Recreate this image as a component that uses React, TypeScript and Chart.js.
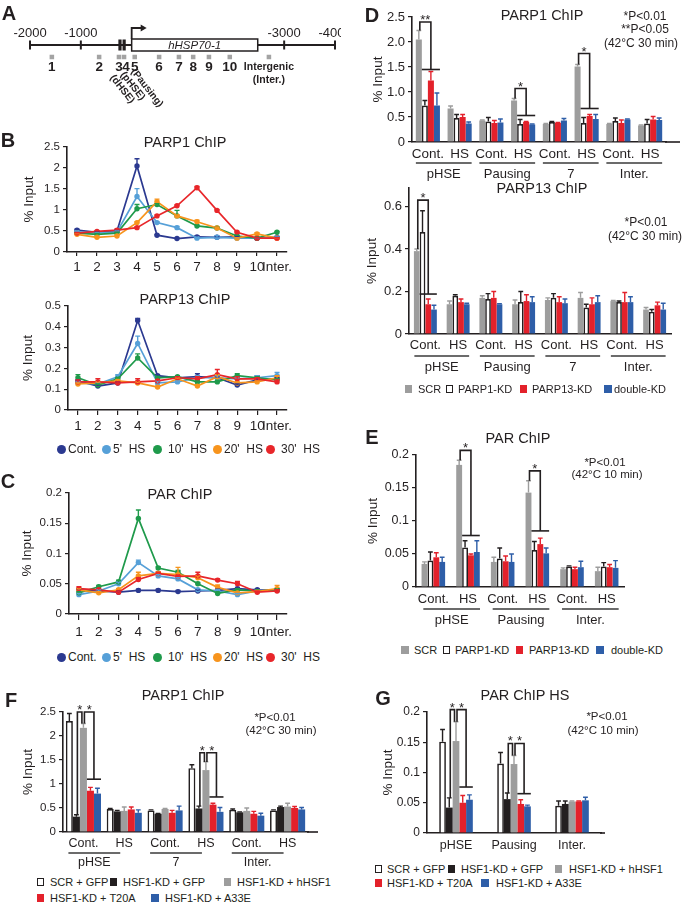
import React, { useEffect, useRef } from "react";
import { Chart, registerables } from "chart.js";

Chart.register(...registerables);

const FONT = "'Liberation Sans', Arial, Helvetica, sans-serif";
const INK = "#231f20";
Chart.defaults.font.family = FONT;
Chart.defaults.color = INK;

// ---------------- Panel A data ----------------
const A_TICK_VALUES = [-2000, -1000, 3000, 4000];
const A_TICK_LABELS = ["-2000", "-1000", "-3000", "-4000"];
const A_GENE = [0, 2480];
const A_GENE_NAME = "hHSP70-1";
const A_HSE = [-230, -148];
const A_SITE_POS = [-1570, -640, -250, -150, 60, 540, 930, 1210, 1520, 1930, 2700];
const A_SITE_LABELS = ["1", "2", "3", "4", "5", "6", "7", "8", "9", "10", "Intergenic"];
const A_SITE_SUB = ["", "", "", "", "", "", "", "", "", "", "(Inter.)"];
const A_ROT_SITES = [2, 3, 4];
const A_ROT_LABELS = ["(dHSE)", "(pHSE)", "(Pausing)"];

// ---------------- Panels B / C data ----------------
const SITES = ["1", "2", "3", "4", "5", "6", "7", "8", "9", "10", "Inter."];
const TIME_NAMES = ["Cont.", "5'  HS", "10'  HS", "20'  HS", "30'  HS"];
const TIME_COLORS = ["#2b3990", "#56a0d8", "#1f9a4b", "#f7941d", "#e8262a"];

const B1_CONT = [0.52, 0.47, 0.5, 2.05, 0.4, 0.32, 0.36, 0.35, 0.36, 0.33, 0.35];
const B1_HS5 = [0.48, 0.45, 0.48, 1.32, 0.7, 0.58, 0.33, 0.35, 0.33, 0.33, 0.35];
const B1_HS10 = [0.45, 0.42, 0.45, 1.03, 1.13, 0.86, 0.62, 0.57, 0.38, 0.33, 0.47];
const B1_HS20 = [0.42, 0.35, 0.38, 0.7, 1.2, 0.86, 0.72, 0.57, 0.33, 0.43, 0.33];
const B1_HS30 = [0.45, 0.49, 0.52, 0.58, 0.86, 1.1, 1.53, 0.99, 0.47, 0.33, 0.33];
const B1_ERR_CONT = [0.02, 0.01, 0.02, 0.17, 0.02, 0.01, 0.03, 0.02, 0.01, 0.01, 0.01];
const B1_ERR_HS5 = [0.02, 0.01, 0.02, 0.19, 0.02, 0.03, 0.02, 0.04, 0.01, 0.01, 0.01];
const B1_ERR_HS10 = [0.01, 0.02, 0.02, 0.1, 0.02, 0.13, 0.02, 0.02, 0.02, 0.02, 0.02];
const B1_ERR_HS20 = [0.02, 0.01, 0.02, 0.02, 0.06, 0.02, 0.04, 0.02, 0.01, 0.03, 0.01];
const B1_ERR_HS30 = [0.01, 0.02, 0.03, 0.02, 0.02, 0.02, 0.03, 0.02, 0.02, 0.01, 0.01];

const B2_CONT = [0.14, 0.115, 0.13, 0.43, 0.165, 0.155, 0.16, 0.155, 0.12, 0.145, 0.15];
const B2_HS5 = [0.13, 0.125, 0.16, 0.32, 0.13, 0.135, 0.155, 0.155, 0.15, 0.155, 0.165];
const B2_HS10 = [0.155, 0.12, 0.15, 0.25, 0.155, 0.16, 0.135, 0.135, 0.165, 0.155, 0.145];
const B2_HS20 = [0.125, 0.13, 0.14, 0.13, 0.11, 0.15, 0.115, 0.16, 0.13, 0.135, 0.155];
const B2_HS30 = [0.135, 0.135, 0.13, 0.135, 0.14, 0.155, 0.15, 0.17, 0.15, 0.15, 0.135];
const B2_ERR_CONT = [0.005, 0.005, 0.005, 0.01, 0.005, 0.005, 0.015, 0.005, 0.005, 0.02, 0.005];
const B2_ERR_HS5 = [0.005, 0.005, 0.01, 0.035, 0.01, 0.005, 0.01, 0.01, 0.005, 0.01, 0.015];
const B2_ERR_HS10 = [0.015, 0.005, 0.005, 0.02, 0.005, 0.005, 0.005, 0.005, 0.01, 0.005, 0.005];
const B2_ERR_HS20 = [0.005, 0.005, 0.005, 0.005, 0.005, 0.005, 0.005, 0.01, 0.005, 0.005, 0.01];
const B2_ERR_HS30 = [0.01, 0.015, 0.005, 0.015, 0.005, 0.005, 0.01, 0.025, 0.01, 0.005, 0.01];

const C_CONT = [0.04, 0.038, 0.036, 0.039, 0.039, 0.037, 0.038, 0.039, 0.042, 0.04, 0.039];
const C_HS5 = [0.032, 0.038, 0.05, 0.085, 0.063, 0.058, 0.04, 0.038, 0.032, 0.038, 0.04];
const C_HS10 = [0.035, 0.045, 0.053, 0.158, 0.076, 0.069, 0.05, 0.034, 0.04, 0.038, 0.04];
const C_HS20 = [0.04, 0.035, 0.04, 0.063, 0.067, 0.065, 0.06, 0.044, 0.035, 0.037, 0.042];
const C_HS30 = [0.042, 0.04, 0.036, 0.057, 0.067, 0.062, 0.063, 0.056, 0.05, 0.036, 0.038];
const C_ERR_CONT = [0.002, 0.002, 0.002, 0.002, 0.002, 0.002, 0.002, 0.002, 0.002, 0.002, 0.002];
const C_ERR_HS5 = [0.002, 0.002, 0.003, 0.004, 0.002, 0.002, 0.002, 0.002, 0.002, 0.002, 0.002];
const C_ERR_HS10 = [0.002, 0.002, 0.003, 0.014, 0.002, 0.003, 0.002, 0.002, 0.002, 0.002, 0.002];
const C_ERR_HS20 = [0.002, 0.002, 0.002, 0.006, 0.003, 0.012, 0.003, 0.004, 0.002, 0.002, 0.005];
const C_ERR_HS30 = [0.003, 0.002, 0.002, 0.003, 0.002, 0.002, 0.006, 0.002, 0.004, 0.002, 0.002];

// ---------------- Panels D / E data ----------------
const KD_NAMES = ["SCR", "PARP1-KD", "PARP13-KD", "double-KD"];
const D_CATS = ["Cont.", "HS", "Cont.", "HS", "Cont.", "HS", "Cont.", "HS"];
const D_REGIONS = ["pHSE", "Pausing", "7", "Inter."];

const D1_SCR = [2.05, 0.67, 0.43, 0.83, 0.36, 1.51, 0.36, 0.33];
const D1_PARP1 = [0.73, 0.48, 0.41, 0.36, 0.4, 0.38, 0.42, 0.37];
const D1_PARP13 = [1.23, 0.5, 0.38, 0.4, 0.38, 0.52, 0.38, 0.45];
const D1_DOUBLE = [0.73, 0.37, 0.39, 0.35, 0.43, 0.46, 0.45, 0.44];
const D1_ERR_SCR = [0.18, 0.05, 0.01, 0.04, 0.01, 0.04, 0.01, 0.01];
const D1_ERR_PARP1 = [0.1, 0.07, 0.08, 0.09, 0.01, 0.11, 0.06, 0.08];
const D1_ERR_PARP13 = [0.18, 0.05, 0.05, 0.01, 0.01, 0.03, 0.06, 0.06];
const D1_ERR_DOUBLE = [0.25, 0.03, 0.07, 0.01, 0.04, 0.09, 0.01, 0.04];
const D1_SIG = [
  { cat: 0, a: 0, aEnd: 2.23, b: [1, 3], bEnd: 1.45, top: 2.4, label: "**" },
  { cat: 3, a: 0, aEnd: 0.87, b: [1, 3], bEnd: 0.53, top: 1.07, label: "*" },
  { cat: 5, a: 0, aEnd: 1.55, b: [1, 3], bEnd: 0.67, top: 1.77, label: "*" },
];

const D2_SCR = [0.39, 0.14, 0.17, 0.14, 0.16, 0.17, 0.155, 0.115];
const D2_PARP1 = [0.48, 0.18, 0.165, 0.15, 0.17, 0.125, 0.15, 0.105];
const D2_PARP13 = [0.14, 0.15, 0.17, 0.155, 0.15, 0.14, 0.15, 0.135];
const D2_DOUBLE = [0.115, 0.14, 0.14, 0.15, 0.145, 0.15, 0.15, 0.115];
const D2_ERR_SCR = [0.01, 0.015, 0.01, 0.02, 0.01, 0.025, 0.003, 0.01];
const D2_ERR_PARP1 = [0.1, 0.005, 0.025, 0.05, 0.02, 0.015, 0.005, 0.01];
const D2_ERR_PARP13 = [0.025, 0.015, 0.03, 0.03, 0.025, 0.03, 0.045, 0.015];
const D2_ERR_DOUBLE = [0.02, 0.005, 0.003, 0.025, 0.02, 0.03, 0.025, 0.03];
const D2_YTICKS = [0, 0.2, 0.4, 0.6];
const D2_SIG = [{ cat: 0, a: 0, aEnd: 0.4, b: [1, 3], bEnd: 0.188, top: 0.63, label: "*" }];

const E_CATS = ["Cont.", "HS", "Cont.", "HS", "Cont.", "HS"];
const E_REGIONS = ["pHSE", "Pausing", "Inter."];
const E_SCR = [0.035, 0.185, 0.038, 0.143, 0.027, 0.024];
const E_PARP1 = [0.04, 0.06, 0.043, 0.056, 0.031, 0.031];
const E_PARP13 = [0.045, 0.048, 0.039, 0.065, 0.027, 0.03];
const E_DOUBLE = [0.038, 0.053, 0.038, 0.051, 0.03, 0.029];
const E_ERR_SCR = [0.003, 0.007, 0.007, 0.018, 0.002, 0.006];
const E_ERR_PARP1 = [0.013, 0.01, 0.016, 0.013, 0.001, 0.006];
const E_ERR_PARP13 = [0.007, 0.002, 0.008, 0.009, 0.003, 0.004];
const E_ERR_DOUBLE = [0.007, 0.017, 0.012, 0.008, 0.009, 0.011];
const E_SIG = [
  { cat: 1, a: 0, aEnd: 0.192, b: [1, 3], bEnd: 0.078, top: 0.207, label: "*" },
  { cat: 3, a: 0, aEnd: 0.161, b: [1, 3], bEnd: 0.085, top: 0.176, label: "*" },
];

// ---------------- Panels F / G data ----------------
const RESCUE_NAMES = ["SCR + GFP", "HSF1-KD + GFP", "HSF1-KD + hHSF1", "HSF1-KD + T20A", "HSF1-KD + A33E"];
const F_CATS = ["Cont.", "HS", "Cont.", "HS", "Cont.", "HS"];
const F_REGIONS = ["pHSE", "7", "Inter."];
const F_SCR = [2.31, 0.48, 0.45, 1.33, 0.46, 0.45];
const F_KD = [0.32, 0.43, 0.38, 0.49, 0.41, 0.52];
const F_WT = [2.17, 0.44, 0.48, 1.29, 0.44, 0.53];
const F_T20A = [0.86, 0.47, 0.4, 0.57, 0.38, 0.5];
const F_A33E = [0.8, 0.4, 0.45, 0.42, 0.34, 0.47];
const F_ERR_SCR = [0.16, 0.01, 0.01, 0.07, 0.02, 0.01];
const F_ERR_KD = [0.04, 0.02, 0.005, 0.05, 0.01, 0.02];
const F_ERR_WT = [0.09, 0.08, 0.01, 0.17, 0.06, 0.07];
const F_ERR_T20A = [0.07, 0.05, 0.05, 0.03, 0.05, 0.03];
const F_ERR_A33E = [0.11, 0.06, 0.09, 0.09, 0.05, 0.04];
const F_SIG = [
  { cat: 0, a: 1, aEnd: 0.36, b: 2, bEnd: 2.26, top: 2.5, label: "*" },
  { cat: 0, a: 2, aEnd: 2.26, b: [3, 4], bEnd: 1.1, top: 2.5, label: "*" },
  { cat: 3, a: 1, aEnd: 0.54, b: 2, bEnd: 1.46, top: 1.65, label: "*" },
  { cat: 3, a: 2, aEnd: 1.46, b: [3, 4], bEnd: 0.73, top: 1.65, label: "*" },
];

const G_CATS = ["pHSE", "Pausing", "Inter."];
const G_SCR = [0.151, 0.115, 0.045];
const G_KD = [0.042, 0.056, 0.048];
const G_WT = [0.152, 0.114, 0.052];
const G_T20A = [0.05, 0.048, 0.052];
const G_A33E = [0.055, 0.044, 0.054];
const G_ERR_SCR = [0.02, 0.018, 0.008];
const G_ERR_KD = [0.016, 0.01, 0.005];
const G_ERR_WT = [0.032, 0.014, 0.001];
const G_ERR_T20A = [0.012, 0.007, 0.001];
const G_ERR_A33E = [0.008, 0.002, 0.005];
const G_SIG = [
  { cat: 0, a: 1, aEnd: 0.058, b: 2, bEnd: 0.184, top: 0.204, label: "*" },
  { cat: 0, a: 2, aEnd: 0.184, b: [3, 4], bEnd: 0.076, top: 0.204, label: "*" },
  { cat: 1, a: 1, aEnd: 0.066, b: 2, bEnd: 0.128, top: 0.148, label: "*" },
  { cat: 1, a: 2, aEnd: 0.128, b: [3, 4], bEnd: 0.065, top: 0.148, label: "*" },
];

// ---------------- styles ----------------
const GRAY = "#9d9d9d";
const RED = "#e3212b";
const BLUE = "#2e5ea8";
const BLACK = "#231f20";
const KD_STYLE = [
  { bg: GRAY, bc: GRAY, bw: 0, err: GRAY },
  { bg: "#ffffff", bc: INK, bw: 1.7, err: INK },
  { bg: RED, bc: RED, bw: 0, err: RED },
  { bg: BLUE, bc: BLUE, bw: 0, err: BLUE },
];
const RESCUE_STYLE = [
  { bg: "#ffffff", bc: INK, bw: 1.7, err: INK },
  { bg: BLACK, bc: BLACK, bw: 0, err: BLACK },
  { bg: GRAY, bc: GRAY, bw: 0, err: GRAY },
  { bg: RED, bc: RED, bw: 0, err: RED },
  { bg: BLUE, bc: BLUE, bw: 0, err: BLUE },
];

// ---------------- geometry helpers ----------------
type Geo = { L: number; T: number; R: number; B: number; yW: number; xH: number; padT: number; padR: number };
function boxOf(g: Geo) {
  const x = g.L - g.yW;
  const y = g.T - g.padT;
  return { x, y, w: g.R + g.padR - x, h: g.B + g.xH - y };
}
const fmtNum = (v: number) => String(+Number(v).toFixed(3));
const fmtOne = (v: number) => (Number(v) === 0 ? "0" : Number(v).toFixed(1));

// ---------------- plugins ----------------
const errorBarPlugin = {
  id: "errorBars",
  afterDatasetsDraw(chart: any) {
    const ctx = chart.ctx;
    const ys = chart.scales.y;
    chart.data.datasets.forEach((ds: any, i: number) => {
      if (!ds.errors) return;
      const meta = chart.getDatasetMeta(i);
      meta.data.forEach((el: any, j: number) => {
        const v = ds.data[j];
        const e = ds.errors[j];
        if (v == null || e == null) return;
        const x = el.x;
        const y0 = ys.getPixelForValue(v);
        const y1 = ys.getPixelForValue(v + e);
        const cap = ds.errCap || 2.5;
        ctx.save();
        ctx.strokeStyle = ds.errColor;
        ctx.lineWidth = 1.4;
        ctx.beginPath();
        ctx.moveTo(x, y0);
        ctx.lineTo(x, y1);
        ctx.moveTo(x - cap, y1);
        ctx.lineTo(x + cap, y1);
        ctx.stroke();
        ctx.restore();
      });
    });
  },
};

function makeSigPlugin(items: any[]) {
  return {
    id: "sig",
    afterDatasetsDraw(chart: any) {
      const ctx = chart.ctx;
      const ys = chart.scales.y;
      const bar = (i: number, c: number) => chart.getDatasetMeta(i).data[c];
      ctx.save();
      ctx.strokeStyle = INK;
      ctx.fillStyle = INK;
      ctx.lineWidth = 1.6;
      ctx.font = `13px ${FONT}`;
      ctx.textAlign = "center";
      ctx.textBaseline = "alphabetic";
      items.forEach((it) => {
        const xa = bar(it.a, it.cat).x + 1;
        const yTop = ys.getPixelForValue(it.top);
        const yA = ys.getPixelForValue(it.aEnd);
        const yB = ys.getPixelForValue(it.bEnd);
        let xb: number;
        if (Array.isArray(it.b)) {
          const b0 = bar(it.b[0], it.cat);
          const b1 = bar(it.b[1], it.cat);
          const l = b0.x - b0.width / 2;
          const r = b1.x + b1.width / 2;
          xb = (l + r) / 2;
          ctx.beginPath();
          ctx.moveTo(l, yB);
          ctx.lineTo(r, yB);
          ctx.stroke();
        } else {
          xb = bar(it.b, it.cat).x - 1.5;
        }
        ctx.beginPath();
        ctx.moveTo(xa, yA);
        ctx.lineTo(xa, yTop);
        ctx.lineTo(xb, yTop);
        ctx.lineTo(xb, yB);
        ctx.stroke();
        ctx.fillText(it.label, (xa + xb) / 2, yTop + 2);
      });
      ctx.restore();
    },
  };
}

function makeGroupPlugin(names: string[], per: number, off0: number, off1: number, lineDy: number, nameDy: number, size: number) {
  return {
    id: "groups",
    afterDraw(chart: any) {
      const ctx = chart.ctx;
      const xs = chart.scales.x;
      const bottom = chart.chartArea.bottom;
      ctx.save();
      ctx.strokeStyle = "#3a3a3a";
      ctx.fillStyle = INK;
      ctx.lineWidth = 1.3;
      ctx.font = `${size}px ${FONT}`;
      ctx.textAlign = "center";
      ctx.textBaseline = "middle";
      names.forEach((n, g) => {
        const c0 = xs.getPixelForValue(g * per);
        const c1 = xs.getPixelForValue(g * per + per - 1);
        const l = c0 + off0;
        const r = c1 + off1;
        ctx.beginPath();
        ctx.moveTo(l, bottom + lineDy);
        ctx.lineTo(r, bottom + lineDy);
        ctx.stroke();
        ctx.fillText(n, (l + r) / 2, bottom + nameDy);
      });
      ctx.restore();
    },
  };
}

function makeAxisExt(ext: number) {
  return {
    id: "axisExt",
    afterDraw(chart: any) {
      if (!ext) return;
      const ctx = chart.ctx;
      const { right, bottom } = chart.chartArea;
      ctx.save();
      ctx.strokeStyle = INK;
      ctx.lineWidth = 1.6;
      ctx.beginPath();
      ctx.moveTo(right - 1, bottom);
      ctx.lineTo(right + ext, bottom);
      ctx.stroke();
      ctx.restore();
    },
  };
}

const genePlugin = {
  id: "gene",
  afterDatasetsDraw(chart: any) {
    const ctx = chart.ctx;
    const xs = chart.scales.x;
    const px = (v: number) => xs.getPixelForValue(v);
    const ay = 45;
    ctx.save();
    ctx.strokeStyle = INK;
    ctx.fillStyle = INK;
    ctx.lineWidth = 2;
    ctx.beginPath();
    ctx.moveTo(px(xs.min), ay);
    ctx.lineTo(px(xs.max), ay);
    ctx.stroke();
    ctx.font = `13px ${FONT}`;
    ctx.textAlign = "center";
    ctx.textBaseline = "middle";
    A_TICK_VALUES.forEach((v, i) => {
      ctx.beginPath();
      ctx.moveTo(px(v), ay - 4.5);
      ctx.lineTo(px(v), ay + 4.5);
      ctx.stroke();
      ctx.fillText(A_TICK_LABELS[i], px(v), ay - 12);
    });
    A_HSE.forEach((v) => ctx.fillRect(px(v) - 1.6, ay - 5.5, 3.2, 11));
    const g0 = px(A_GENE[0]);
    const g1 = px(A_GENE[1]);
    ctx.fillStyle = "#fff";
    ctx.fillRect(g0, ay - 6, g1 - g0, 12);
    ctx.lineWidth = 1.5;
    ctx.strokeRect(g0, ay - 6, g1 - g0, 12);
    ctx.lineWidth = 1.8;
    ctx.beginPath();
    ctx.moveTo(g0, ay - 6);
    ctx.lineTo(g0, ay - 17);
    ctx.lineTo(g0 + 10, ay - 17);
    ctx.stroke();
    ctx.fillStyle = INK;
    ctx.beginPath();
    ctx.moveTo(g0 + 15, ay - 17);
    ctx.lineTo(g0 + 9, ay - 20.5);
    ctx.lineTo(g0 + 9, ay - 13.5);
    ctx.closePath();
    ctx.fill();
    ctx.font = `italic 11.5px ${FONT}`;
    ctx.fillText(A_GENE_NAME, (g0 + g1) / 2, ay + 0.5);
    let prev = -Infinity;
    A_SITE_POS.forEach((v, i) => {
      let x = px(v);
      if (x - prev < 7) x = prev + 7;
      prev = x;
      const lab = A_SITE_LABELS[i];
      ctx.font = lab.length > 3 ? `bold 10.5px ${FONT}` : `bold 13.5px ${FONT}`;
      ctx.fillText(lab, x, 67);
      if (A_SITE_SUB[i]) {
        ctx.font = `bold 10.5px ${FONT}`;
        ctx.fillText(A_SITE_SUB[i], x, 80);
      }
    });
    ctx.font = `bold 10px ${FONT}`;
    ctx.textAlign = "left";
    let prevRot = -Infinity;
    A_ROT_SITES.forEach((s, i) => {
      let x = px(A_SITE_POS[s]) - 7;
      if (x - prevRot < 10.5) x = prevRot + 10.5;
      prevRot = x;
      ctx.save();
      ctx.translate(x, 76 - i * 3);
      ctx.rotate((52 * Math.PI) / 180);
      ctx.fillText(A_ROT_LABELS[i], 0, 0);
      ctx.restore();
    });
    ctx.restore();
  },
};

// ---------------- chart config builders ----------------
function yAxis(g: Geo, max: number, step: number, size: number, fmt: any, list?: number[]) {
  return {
    min: 0,
    max,
    afterBuildTicks: list
      ? (s: any) => {
          s.ticks = list.map((v) => ({ value: v }));
        }
      : undefined,
    ticks: { stepSize: step, font: { size }, color: INK, padding: 3, callback: fmt },
    grid: { display: true, drawOnChartArea: false, drawTicks: true, tickLength: 4, color: INK, lineWidth: 1.2 },
    border: { display: true, color: INK, width: 1.6 },
    title: { display: true, text: "% Input", font: { size: 13.5 }, color: INK, padding: 0 },
    afterFit: (s: any) => {
      s.width = g.yW;
      s.paddingTop = 0;
      s.paddingBottom = 0;
    },
  };
}

function lineConfig(g: Geo, series: number[][], errs: number[][], yMax: number, yStep: number, tickLen: number, pad: number) {
  return {
    type: "line",
    data: {
      labels: SITES,
      datasets: series.map((d, i) => ({
        label: TIME_NAMES[i],
        data: d,
        errors: errs[i],
        errColor: TIME_COLORS[i],
        errCap: 2.5,
        order: series.length - 1 - i,
        borderColor: TIME_COLORS[i],
        backgroundColor: TIME_COLORS[i],
        pointBackgroundColor: TIME_COLORS[i],
        pointBorderWidth: 0,
        pointRadius: 2.7,
        borderWidth: 1.7,
        tension: 0,
      })),
    },
    options: {
      animation: false,
      responsive: false,
      events: [],
      layout: { padding: { left: 0, top: g.padT, right: g.padR, bottom: 0 } },
      plugins: { legend: { display: false }, tooltip: { enabled: false }, title: { display: false } },
      scales: {
        x: {
          type: "category",
          offset: true,
          grid: { display: true, drawOnChartArea: false, drawTicks: true, tickLength: tickLen, color: INK, lineWidth: 1.2 },
          border: { display: true, color: INK, width: 1.6 },
          ticks: { font: { size: 13.5 }, color: INK, padding: pad, maxRotation: 0, autoSkip: false },
          afterFit: (s: any) => {
            s.height = g.xH;
            s.paddingLeft = 0;
            s.paddingRight = 0;
          },
        },
        y: yAxis(g, yMax, yStep, 11.5, fmtNum),
      },
    },
    plugins: [errorBarPlugin],
  };
}

function barConfig(
  g: Geo,
  labels: string[],
  series: number[][],
  errs: number[][],
  names: string[],
  styles: any[],
  catPct: number,
  y: any,
  xSize: number,
  xPad: number,
  plugins: any[]
) {
  return {
    type: "bar",
    data: {
      labels,
      datasets: series.map((d, i) => ({
        label: names[i],
        data: d,
        errors: errs[i],
        errColor: styles[i].err,
        errCap: 2.4,
        backgroundColor: styles[i].bg,
        borderColor: styles[i].bc,
        borderWidth: styles[i].bw,
        borderSkipped: "bottom",
        barPercentage: 1,
        categoryPercentage: catPct,
      })),
    },
    options: {
      animation: false,
      responsive: false,
      events: [],
      layout: { padding: { left: 0, top: g.padT, right: g.padR, bottom: 0 } },
      plugins: { legend: { display: false }, tooltip: { enabled: false }, title: { display: false } },
      scales: {
        x: {
          type: "category",
          offset: true,
          grid: { display: true, drawOnChartArea: false, drawTicks: false, color: INK },
          border: { display: true, color: INK, width: 1.6 },
          ticks: { font: { size: xSize }, color: INK, padding: xPad, maxRotation: 0, autoSkip: false },
          afterFit: (s: any) => {
            s.height = g.xH;
            s.paddingLeft = 0;
            s.paddingRight = 0;
          },
        },
        y,
      },
    },
    plugins: [errorBarPlugin, ...plugins],
  };
}

// ---------------- geometry ----------------
const GEO_B1: Geo = { L: 67, T: 147, R: 287, B: 252, yW: 46, xH: 26, padT: 8, padR: 8 };
const GEO_B2: Geo = { L: 68, T: 306, R: 287, B: 410, yW: 48, xH: 26, padT: 8, padR: 8 };
const GEO_C: Geo = { L: 69, T: 493, R: 287, B: 614, yW: 50, xH: 28, padT: 8, padR: 8 };
const GEO_D1: Geo = { L: 412, T: 17, R: 666, B: 142, yW: 42, xH: 42, padT: 12, padR: 15 };
const GEO_D2: Geo = { L: 409, T: 188, R: 671, B: 334, yW: 45, xH: 42, padT: 10, padR: 10 };
const GEO_E: Geo = { L: 416, T: 455, R: 624, B: 587, yW: 51, xH: 42, padT: 20, padR: 10 };
const GEO_F: Geo = { L: 63, T: 712, R: 308, B: 832, yW: 43, xH: 38, padT: 18, padR: 14 };
const GEO_G: Geo = { L: 427, T: 712, R: 601, B: 833, yW: 47, xH: 22, padT: 18, padR: 10 };

// ---------------- components ----------------
function ChartCanvas({ box, make }: { box: { x: number; y: number; w: number; h: number }; make: () => any }) {
  const ref = useRef<HTMLCanvasElement>(null);
  useEffect(() => {
    const c = new Chart(ref.current as HTMLCanvasElement, make());
    return () => c.destroy();
  }, []);
  return (
    <canvas
      ref={ref}
      width={box.w}
      height={box.h}
      style={{ position: "absolute", left: box.x, top: box.y, width: box.w, height: box.h }}
    />
  );
}

function Txt({ x, y, size = 13, bold = false, align = "center", children }: any) {
  const tx = align === "center" ? "-50%" : align === "right" ? "-100%" : "0";
  return (
    <div
      style={{
        position: "absolute",
        left: x,
        top: y,
        transform: `translate(${tx}, -50%)`,
        fontSize: size,
        fontWeight: bold ? 700 : 400,
        whiteSpace: "pre",
        lineHeight: 1,
        color: INK,
      }}
    >
      {children}
    </div>
  );
}

function Marker({ x, y, shape, color, hollow, size }: any) {
  return (
    <div
      style={{
        position: "absolute",
        left: x - size / 2,
        top: y - size / 2,
        width: size,
        height: size,
        boxSizing: "border-box",
        borderRadius: shape === "circle" ? "50%" : 0,
        background: hollow ? "#fff" : color,
        border: hollow ? `1.7px solid ${INK}` : "none",
      }}
    />
  );
}

function TimeLegend({ y }: { y: number }) {
  const cx = [61, 106, 157, 217, 270];
  const tx = [68, 113, 168, 224, 281];
  return (
    <>
      {TIME_NAMES.map((n, i) => (
        <React.Fragment key={n}>
          <Marker x={cx[i]} y={y} shape="circle" color={TIME_COLORS[i]} size={9} />
          <Txt x={tx[i]} y={y} size={12} align="left">
            {n}
          </Txt>
        </React.Fragment>
      ))}
    </>
  );
}

function KdLegend({ y, cx, tx }: { y: number; cx: number[]; tx: number[] }) {
  return (
    <>
      {KD_NAMES.map((n, i) => (
        <React.Fragment key={n}>
          <Marker x={cx[i]} y={y} shape="square" color={KD_STYLE[i].bg} hollow={i === 1} size={7.5} />
          <Txt x={tx[i]} y={y} size={11} align="left">
            {n}
          </Txt>
        </React.Fragment>
      ))}
    </>
  );
}

function RescueLegend({ rows }: { rows: { y: number; items: { i: number; cx: number; tx: number }[] }[] }) {
  return (
    <>
      {rows.map((r) =>
        r.items.map((it) => (
          <React.Fragment key={it.i}>
            <Marker x={it.cx} y={r.y} shape="square" color={RESCUE_STYLE[it.i].bg} hollow={it.i === 0} size={7.5} />
            <Txt x={it.tx} y={r.y} size={11} align="left">
              {RESCUE_NAMES[it.i]}
            </Txt>
          </React.Fragment>
        ))
      )}
    </>
  );
}

export default function App() {
  const aBox = { x: 0, y: 0, w: 341, h: 115 };
  return (
    <div
      style={{
        position: "absolute",
        left: 0,
        top: 0,
        width: 682,
        height: 906,
        background: "#fff",
        overflow: "hidden",
        fontFamily: FONT,
        color: INK,
      }}
    >
      <ChartCanvas
        box={aBox}
        make={() => ({
          type: "scatter",
          data: {
            datasets: [
              {
                data: A_SITE_POS.map((v) => ({ x: v, y: 0 })),
                pointStyle: "rect",
                pointRadius: 3.2,
                pointBorderWidth: 0,
                backgroundColor: "#a3a3a3",
              },
            ],
          },
          options: {
            animation: false,
            responsive: false,
            events: [],
            layout: { padding: { left: 30, right: 6, top: 40, bottom: 41 } },
            plugins: { legend: { display: false }, tooltip: { enabled: false } },
            scales: {
              x: { type: "linear", min: -2000, max: 4000, display: false },
              y: { min: -1, max: 1, display: false },
            },
          },
          plugins: [genePlugin],
        })}
      />

      <ChartCanvas
        box={boxOf(GEO_B1)}
        make={() =>
          lineConfig(GEO_B1, [B1_CONT, B1_HS5, B1_HS10, B1_HS20, B1_HS30], [B1_ERR_CONT, B1_ERR_HS5, B1_ERR_HS10, B1_ERR_HS20, B1_ERR_HS30], 2.5, 0.5, 4, 3)
        }
      />
      <ChartCanvas
        box={boxOf(GEO_B2)}
        make={() =>
          lineConfig(GEO_B2, [B2_CONT, B2_HS5, B2_HS10, B2_HS20, B2_HS30], [B2_ERR_CONT, B2_ERR_HS5, B2_ERR_HS10, B2_ERR_HS20, B2_ERR_HS30], 0.5, 0.1, 5, 3)
        }
      />
      <ChartCanvas
        box={boxOf(GEO_C)}
        make={() =>
          lineConfig(GEO_C, [C_CONT, C_HS5, C_HS10, C_HS20, C_HS30], [C_ERR_CONT, C_ERR_HS5, C_ERR_HS10, C_ERR_HS20, C_ERR_HS30], 0.2, 0.05, 6, 4)
        }
      />

      <ChartCanvas
        box={boxOf(GEO_D1)}
        make={() =>
          barConfig(
            GEO_D1,
            D_CATS,
            [D1_SCR, D1_PARP1, D1_PARP13, D1_DOUBLE],
            [D1_ERR_SCR, D1_ERR_PARP1, D1_ERR_PARP13, D1_ERR_DOUBLE],
            KD_NAMES,
            KD_STYLE,
            0.76,
            yAxis(GEO_D1, 2.5, 0.5, 13, fmtOne),
            13.5,
            4,
            [makeSigPlugin(D1_SIG), makeGroupPlugin(D_REGIONS, 2, -12, 12, 21, 32, 13), makeAxisExt(14)]
          )
        }
      />
      <ChartCanvas
        box={boxOf(GEO_D2)}
        make={() =>
          barConfig(
            GEO_D2,
            D_CATS,
            [D2_SCR, D2_PARP1, D2_PARP13, D2_DOUBLE],
            [D2_ERR_SCR, D2_ERR_PARP1, D2_ERR_PARP13, D2_ERR_DOUBLE],
            KD_NAMES,
            KD_STYLE,
            0.7,
            yAxis(GEO_D2, 0.687, 0.2, 13, fmtNum, D2_YTICKS),
            13,
            4,
            [makeSigPlugin(D2_SIG), makeGroupPlugin(D_REGIONS, 2, -11, 11, 22, 33, 13)]
          )
        }
      />
      <ChartCanvas
        box={boxOf(GEO_E)}
        make={() =>
          barConfig(
            GEO_E,
            E_CATS,
            [E_SCR, E_PARP1, E_PARP13, E_DOUBLE],
            [E_ERR_SCR, E_ERR_PARP1, E_ERR_PARP13, E_ERR_DOUBLE],
            KD_NAMES,
            KD_STYLE,
            0.68,
            yAxis(GEO_E, 0.2, 0.05, 12.5, fmtNum),
            13,
            5,
            [makeSigPlugin(E_SIG), makeGroupPlugin(E_REGIONS, 2, -10, 12, 22, 33, 13)]
          )
        }
      />
      <ChartCanvas
        box={boxOf(GEO_F)}
        make={() =>
          barConfig(
            GEO_F,
            F_CATS,
            [F_SCR, F_KD, F_WT, F_T20A, F_A33E],
            [F_ERR_SCR, F_ERR_KD, F_ERR_WT, F_ERR_T20A, F_ERR_A33E],
            RESCUE_NAMES,
            RESCUE_STYLE,
            0.86,
            yAxis(GEO_F, 2.5, 0.5, 11.5, fmtNum),
            12.5,
            4,
            [makeSigPlugin(F_SIG), makeGroupPlugin(F_REGIONS, 2, -15, -4, 21, 31, 12.5), makeAxisExt(10)]
          )
        }
      />
      <ChartCanvas
        box={boxOf(GEO_G)}
        make={() =>
          barConfig(
            GEO_G,
            G_CATS,
            [G_SCR, G_KD, G_WT, G_T20A, G_A33E],
            [G_ERR_SCR, G_ERR_KD, G_ERR_WT, G_ERR_T20A, G_ERR_A33E],
            RESCUE_NAMES,
            RESCUE_STYLE,
            0.58,
            yAxis(GEO_G, 0.2, 0.05, 12, fmtNum),
            12.5,
            5,
            [makeSigPlugin(G_SIG), makeAxisExt(4)]
          )
        }
      />

      {/* panel letters */}
      <Txt x={9} y={13} size={20} bold>A</Txt>
      <Txt x={8} y={140} size={20} bold>B</Txt>
      <Txt x={8} y={481} size={20} bold>C</Txt>
      <Txt x={372} y={15} size={20} bold>D</Txt>
      <Txt x={372} y={437} size={20} bold>E</Txt>
      <Txt x={11} y={700} size={20} bold>F</Txt>
      <Txt x={383} y={698} size={20} bold>G</Txt>

      {/* titles */}
      <Txt x={185} y={142} size={14.5}>PARP1 ChIP</Txt>
      <Txt x={185} y={299} size={14.5}>PARP13 ChIP</Txt>
      <Txt x={180} y={494} size={14.5}>PAR ChIP</Txt>
      <Txt x={542} y={15} size={14.5}>PARP1 ChIP</Txt>
      <Txt x={542} y={188} size={14.5}>PARP13 ChIP</Txt>
      <Txt x={518} y={438} size={14.5}>PAR ChIP</Txt>
      <Txt x={183} y={695} size={14.5}>PARP1 ChIP</Txt>
      <Txt x={525} y={695} size={14.5}>PAR ChIP HS</Txt>

      {/* annotations */}
      <Txt x={645} y={16} size={12}>*P&lt;0.01</Txt>
      <Txt x={645} y={29} size={12}>**P&lt;0.05</Txt>
      <Txt x={641} y={43} size={12}>(42°C 30 min)</Txt>
      <Txt x={646} y={222} size={12}>*P&lt;0.01</Txt>
      <Txt x={645} y={236} size={12}>(42°C 30 min)</Txt>
      <Txt x={605} y={463} size={11.5}>*P&lt;0.01</Txt>
      <Txt x={607} y={475} size={11.5}>(42°C 10 min)</Txt>
      <Txt x={275} y={718} size={11.5}>*P&lt;0.01</Txt>
      <Txt x={281} y={731} size={11.5}>(42°C 30 min)</Txt>
      <Txt x={607} y={717} size={11.5}>*P&lt;0.01</Txt>
      <Txt x={603} y={731} size={11.5}>(42°C 10 min)</Txt>

      {/* legends */}
      <TimeLegend y={449} />
      <TimeLegend y={657} />
      <KdLegend y={389} cx={[408.5, 449.5, 523.5, 608]} tx={[418, 458, 532, 614]} />
      <KdLegend y={650} cx={[405, 446.5, 519.5, 600]} tx={[414, 455, 529, 611]} />
      <RescueLegend
        rows={[
          { y: 882, items: [{ i: 0, cx: 40.5, tx: 50 }, { i: 1, cx: 113.5, tx: 123 }, { i: 2, cx: 227.5, tx: 237 }] },
          { y: 898, items: [{ i: 3, cx: 40.5, tx: 50 }, { i: 4, cx: 155, tx: 165 }] },
        ]}
      />
      <RescueLegend
        rows={[
          { y: 869, items: [{ i: 0, cx: 378.5, tx: 387 }, { i: 1, cx: 451.5, tx: 461 }, { i: 2, cx: 558.5, tx: 569 }] },
          { y: 883, items: [{ i: 3, cx: 378.5, tx: 387 }, { i: 4, cx: 485, tx: 496 }] },
        ]}
      />
    </div>
  );
}
